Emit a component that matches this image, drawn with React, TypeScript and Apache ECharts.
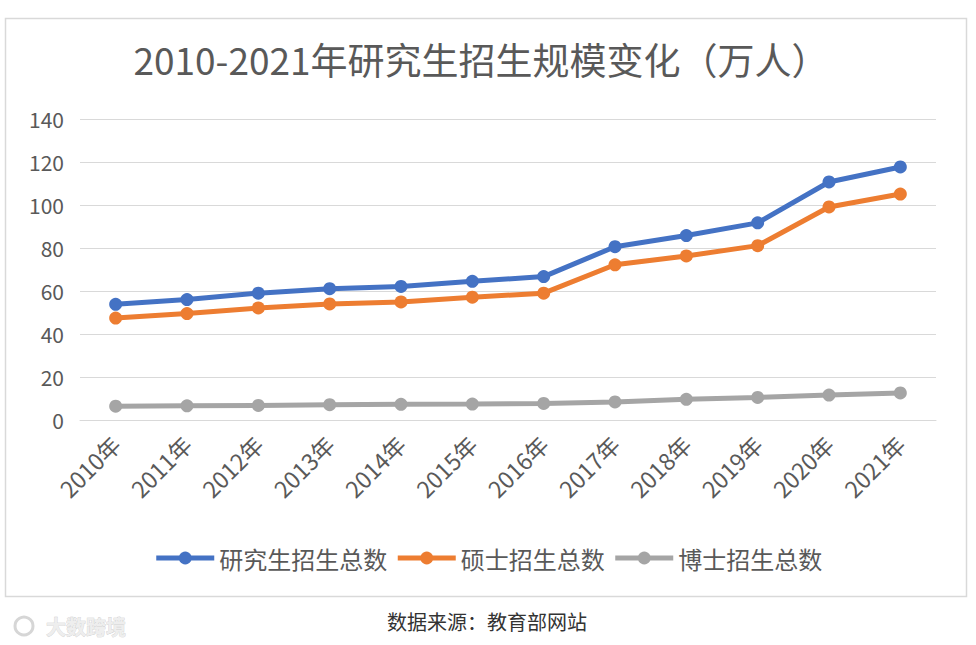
import React, { useEffect, useRef } from "react";
import * as echarts from "echarts";

const categories = ["2010年", "2011年", "2012年", "2013年", "2014年", "2015年", "2016年", "2017年", "2018年", "2019年", "2020年", "2021年"];
const totalValues = [53.8, 56.0, 59.0, 61.1, 62.1, 64.5, 66.7, 80.6, 85.8, 91.7, 110.7, 117.7];
const masterValues = [47.4, 49.5, 52.1, 54.0, 54.9, 57.1, 59.0, 72.2, 76.3, 81.1, 99.1, 105.1];
const doctorValues = [6.4, 6.6, 6.8, 7.1, 7.3, 7.4, 7.7, 8.4, 9.6, 10.5, 11.6, 12.6];
const seriesNames = ["研究生招生总数", "硕士招生总数", "博士招生总数"];
const titleText = "2010-2021年研究生招生规模变化（万人）";
const sourceText = "数据来源：教育部网站";
const watermarkText = "大数跨境";

const FONT = "'Noto Sans CJK SC', 'Noto Sans', sans-serif";

export default function App() {
  const ref = useRef<HTMLDivElement>(null);
  useEffect(() => {
    if (!ref.current) return;
    const chart = echarts.init(ref.current, null, { renderer: "svg" });
    const colors = ["#4472C4", "#ED7D31", "#A5A5A5"];
    const data = [totalValues, masterValues, doctorValues];
    chart.setOption({
      animation: false,
      backgroundColor: "#ffffff",
      textStyle: { fontFamily: FONT },
      title: {
        text: titleText,
        top: 35,
        left: 476,
        textAlign: "center",
        textStyle: { fontSize: 37, fontWeight: "normal", color: "#595959", fontFamily: FONT },
      },
      legend: {
        top: 541,
        left: "center",
        itemWidth: 58,
        itemHeight: 16,
        itemGap: 8,
        lineStyle: { width: 5 },
        textStyle: { fontSize: 24, color: "#595959", fontFamily: FONT },
        data: seriesNames,
      },
      grid: { left: 80, right: 40, top: 119, bottom: 225, containLabel: false },
      xAxis: {
        type: "category",
        data: categories,
        boundaryGap: true,
        axisLine: { show: true, lineStyle: { color: "#d9d9d9" } },
        axisTick: { show: false },
        axisLabel: { rotate: 45, fontSize: 23, color: "#595959", margin: 20, interval: 0, fontFamily: FONT },
      },
      yAxis: {
        type: "value",
        min: 0,
        max: 140,
        interval: 20,
        axisLine: { show: false },
        axisTick: { show: false },
        axisLabel: { fontSize: 21, color: "#595959", margin: 16, fontFamily: FONT },
        splitLine: { lineStyle: { color: "#d9d9d9", width: 1 } },
      },
      series: seriesNames.map((name, i) => ({
        name,
        type: "line",
        data: data[i],
        symbol: "circle",
        symbolSize: 13,
        lineStyle: { width: 5, color: colors[i] },
        itemStyle: { color: colors[i] },
      })),
      graphic: [
        {
          type: "rect",
          shape: { x: 5.5, y: 18.5, width: 961, height: 578 },
          style: { fill: "none", stroke: "#d9d9d9", lineWidth: 1.5 },
          z: -1,
        },
        {
          type: "text",
          x: 487,
          y: 621,
          style: { text: sourceText, fontSize: 20, fill: "#333333", align: "center", verticalAlign: "middle", fontFamily: FONT },
        },
        {
          type: "text",
          x: 46,
          y: 626,
          style: { text: watermarkText, fontSize: 20, fill: "#eeeeee", stroke: "#c8c8c8", lineWidth: 0.6, align: "left", verticalAlign: "middle", fontFamily: FONT, fontWeight: "bold" },
        },
        {
          type: "circle",
          shape: { cx: 24, cy: 626, r: 9 },
          style: { fill: "none", stroke: "#d6d6d6", lineWidth: 3 },
        },
      ],
    });
    return () => chart.dispose();
  }, []);
  return <div ref={ref} style={{ position: "fixed", left: 0, top: 0, width: 976, height: 645 }} />;
}
